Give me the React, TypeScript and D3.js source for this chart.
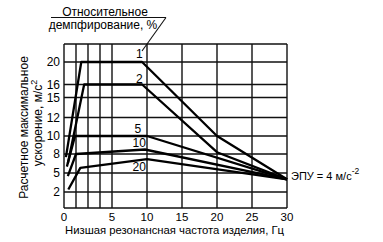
import React from "react";
import * as d3 from "d3";

// ---- data ----
const xGridValues = [0, 1.25, 2.5, 3.75, 5, 10, 15, 20, 25, 30];
const xTickLabels = [0, 5, 10, 15, 20, 25, 30];
const yGridValues = [0, 2, 5, 8, 10, 12, 15, 16, 20, 24];
const yTickLabels = [2, 5, 8, 10, 12, 15, 16, 20];

const dampingNames = ["1", "2", "5", "10", "20"];
const damping1: [number, number][] = [[0.2, 7.5], [1.8, 20], [9.3, 20], [20, 10], [30, 4]];
const damping2: [number, number][] = [[0.4, 6.5], [2.1, 16], [9.3, 16], [20, 8.2], [30, 4]];
const damping5: [number, number][] = [[0.3, 6], [1.15, 10], [10, 10], [30, 4]];
const damping10: [number, number][] = [[0.4, 4.5], [1.25, 8], [9.7, 8.5], [30, 4]];
const damping20: [number, number][] = [[0.45, 2.4], [1.7, 5.8], [10, 7.2], [30, 4]];
const series = [damping1, damping2, damping5, damping10, damping20];

const epuValue = 4;

const FONT = "'Liberation Sans', Arial, Helvetica, sans-serif";

export default function App() {
  const x = d3.scaleLinear().domain([0, 5, 30]).range([64, 112, 287]);
  const y = d3
    .scaleLinear()
    .domain(yGridValues)
    .range([208, 192, 173, 154, 136, 117.5, 97.5, 84.5, 62, 44]);

  const line = d3
    .line<[number, number]>()
    .x((d) => x(d[0]))
    .y((d) => y(d[1]));

  const x0 = x(0);
  const x1 = x(30);
  const yTop = y(24);
  const yBot = y(0);

  const labelPos: [number, number][] = [
    [x(8.9), y(20) - 4],
    [x(8.9), y(16) - 2],
    [x(8.7), y(10) - 3],
    [x(8.9), y(8) - 7],
    [x(8.9), y(5) - 2],
  ];

  return (
    <svg
      width={383}
      height={242}
      style={{ position: "absolute", left: 0, top: 0, background: "#fff" }}
      fontFamily={FONT}
    >
      <rect x={0} y={0} width={383} height={242} fill="#fff" />
      <g stroke="#111" strokeWidth={1.4}>
        {xGridValues.map((v) => (
          <line key={"vx" + v} x1={x(v)} x2={x(v)} y1={yTop} y2={yBot} />
        ))}
        {yGridValues.map((v) => (
          <line key={"hy" + v} x1={x0} x2={x1} y1={y(v)} y2={y(v)} />
        ))}
      </g>
      <g fill="none" stroke="#000" strokeWidth={2.3} strokeLinejoin="round">
        {series.map((s, i) => (
          <path key={i} d={line(s) || ""} />
        ))}
      </g>
      <g fontSize={12} fill="#000" textAnchor="middle">
        {dampingNames.map((n, i) => (
          <text key={n} x={labelPos[i][0]} y={labelPos[i][1]}>
            {n}
          </text>
        ))}
      </g>
      <g fontSize={12} fill="#000" textAnchor="end">
        {yTickLabels.map((v) => (
          <text key={v} x={x0 - 4} y={y(v) + 4.3}>
            {v}
          </text>
        ))}
      </g>
      <g fontSize={11.5} fill="#000" textAnchor="middle">
        {xTickLabels.map((v) => (
          <text key={v} x={x(v)} y={220.5}>
            {v}
          </text>
        ))}
      </g>
      <text x={x0 + 1} y={234} fontSize={11.3} fill="#000">
        Низшая резонансная частота изделия, Гц
      </text>
      <g fontSize={12} fill="#000" textAnchor="middle">
        <text transform="translate(28,127.5) rotate(-90)">Расчетное максимальное</text>
        <text transform="translate(42,123) rotate(-90)">
          ускорение, м/с<tspan dy={-5} fontSize={9}>2</tspan>
        </text>
      </g>
      <g fontSize={12} fill="#000" textAnchor="middle">
        <text x={105} y={15.5}>Относительное</text>
        <text x={103} y={28.5}>демпфирование, %</text>
      </g>
      <g stroke="#111" strokeWidth={1.1} fill="none">
        <line x1={51} x2={166} y1={17.5} y2={17.5} />
        <line x1={166} x2={142} y1={17.5} y2={51} />
      </g>
      <text x={x1 + 4} y={y(epuValue) + 1} fontSize={11} fill="#000">
        ЭПУ = 4 м/с<tspan dy={-6} fontSize={8.5}>-2</tspan>
      </text>
    </svg>
  );
}
